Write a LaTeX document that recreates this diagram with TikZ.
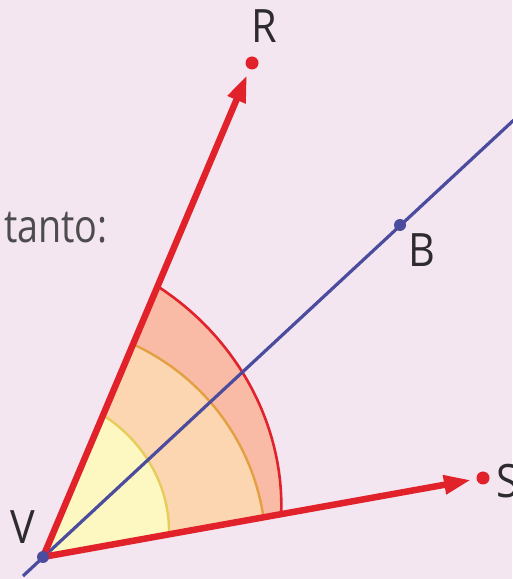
\documentclass[tikz,border=0pt]{standalone}
\usepackage{fontspec}
\setmainfont{Open Sans}
\usetikzlibrary{arrows.meta}
\definecolor{bg}{HTML}{F3E6F1}
\definecolor{rayred}{HTML}{E1222B}
\definecolor{lineblue}{HTML}{4B4C9E}
\definecolor{bandout}{HTML}{F9BBA5}
\definecolor{bandmid}{HTML}{FCD6B0}
\definecolor{bandin}{HTML}{FDF7C2}
\definecolor{arcmid}{HTML}{E3A040}
\definecolor{arcin}{HTML}{E6CC5A}
\definecolor{txt}{HTML}{2E2B2E}
\begin{document}
\begin{tikzpicture}[x=1pt,y=1pt,
  ray/.style={draw=rayred,line width=6.5pt,-{Triangle[length=27pt,width=18pt]}},
  bisect/.style={draw=lineblue,line width=3.2pt},
  reddot/.style={circle,fill=rayred,inner sep=0pt,minimum size=13pt},
  bluedot/.style={circle,fill=lineblue,inner sep=0pt,minimum size=12pt},
  lbl/.style={text=txt,font=\fontsize{46}{50}\selectfont,inner sep=0pt}]
\useasboundingbox (0,0) rectangle (512,579);
\fill[bg] (0,0) rectangle (512,579);
\coordinate (V) at (43,22);
% bands
\begin{scope}[shift={(V)}]
  \fill[bandout] (0,0) -- plot[domain=10.18:67.07,samples=60] (\x:{242+52*(\x-10.18)/56.89}) -- cycle;
  \fill[bandmid] (0,0) -- plot[domain=10.18:67.07,samples=60] (\x:{224+7*(\x-10.18)/56.89}) -- cycle;
  \fill[bandin] (0,0) -- plot[domain=10.18:67.07,samples=60] (\x:{128+26*(\x-10.18)/56.89}) -- cycle;
  \draw[rayred,line width=2.6pt] plot[domain=10.18:67.07,samples=60] (\x:{242+52*(\x-10.18)/56.89});
  \draw[arcmid,line width=2.4pt] plot[domain=10.18:67.07,samples=60] (\x:{224+7*(\x-10.18)/56.89});
  \draw[arcin,line width=2.4pt] plot[domain=10.18:67.07,samples=60] (\x:{128+26*(\x-10.18)/56.89});
\end{scope}
% points
\coordinate (Lstart) at (23,3);
\coordinate (Lend) at (530,474);
\coordinate (Rtip) at (247,504);
\coordinate (Stip) at (471,99);
\draw[bisect] (Lstart) -- (Lend);
\draw[ray] (V) -- (Rtip);
\draw[ray] (V) -- (Stip);
\node[reddot] (R) at (252,516) {};
\node[reddot] (S) at (483,101) {};
\node[bluedot] (B) at (400,354) {};
\node[bluedot] (Vdot) at (V) {};
% labels
\node[lbl] (lR) at (264,553) {\scalebox{0.9}[1]{R}};
\node[lbl] (lB) at (422,329) {\scalebox{0.9}[1]{B}};
\node[lbl] (lV) at (23,52) {\scalebox{0.9}[1]{V}};
\node[lbl] (lS) at (508,98) {\scalebox{0.9}[1]{S}};
\node[lbl,anchor=base east,text=txt!85] (tanto) at (108,336) {\scalebox{0.82}[1]{tanto:}};
\end{tikzpicture}
\end{document}
